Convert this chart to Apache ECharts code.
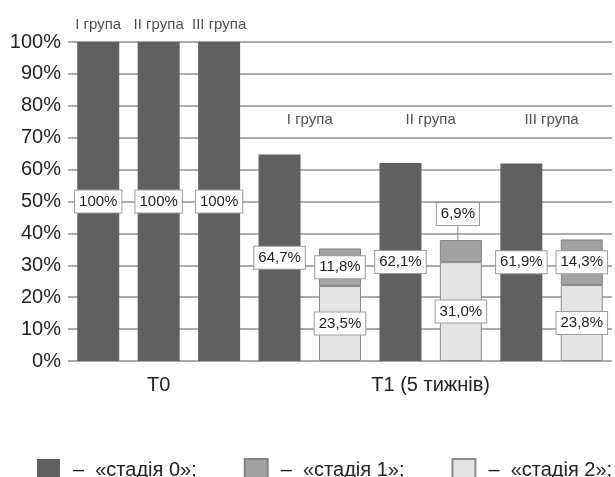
<!DOCTYPE html>
<html>
<head>
<meta charset="utf-8">
<script src="https://cdn.jsdelivr.net/npm/echarts@6/dist/echarts.min.js"></script>
<style>
html,body{margin:0;padding:0;background:#fff;}
#chart{width:615px;height:477px;}
</style>
</head>
<body>
<div id="chart"></div>
<script>
// Nine bar slots: three groups at T0, then a pair of bars per group at T1
const slots = ['T0-I', 'T0-II', 'T0-III', 'T1-I-0', 'T1-I-12', 'T1-II-0', 'T1-II-12', 'T1-III-0', 'T1-III-12'];
const stage0 = [100, 100, 100, 64.7, null, 62.1, null, 61.9, null];
const stage1 = [null, null, null, null, 11.8, null, 6.9, null, 14.3];
const stage2 = [null, null, null, null, 23.5, null, 31.0, null, 23.8];
const seriesNames = ['стадія 0', 'стадія 1', 'стадія 2'];
const periodLabels = ['T0', 'T1 (5 тижнів)'];
const groupNames = ['I група', 'II група', 'III група'];
const yTicks = ['0%', '10%', '20%', '30%', '40%', '50%', '60%', '70%', '80%', '90%', '100%'];

const sans = "'Liberation Sans', Arial, sans-serif";

function fmt(v) {
  return v === 100 ? '100%' : v.toFixed(1).replace('.', ',') + '%';
}

const boxLabel = {
  show: true,
  position: 'inside',
  fontFamily: sans,
  fontSize: 15,
  color: '#222',
  backgroundColor: '#fff',
  borderColor: '#9a9a9a',
  borderWidth: 1,
  padding: [4, 4, 3, 4],
  formatter: p => fmt(p.value)
};

// Group captions: above each T0 bar, and centred over each T1 pair
const groupPoints = [];
groupNames.forEach((g, i) => groupPoints.push({ name: g, value: [i + 0.5, 105.3] }));
groupNames.forEach((g, i) => groupPoints.push({ name: g, value: [4 + 2 * i, 75.5] }));

const chart = echarts.init(document.getElementById('chart'), null, { renderer: 'canvas' });
chart.setOption({
  animation: false,
  backgroundColor: '#fff',
  grid: { left: 68, right: 0, top: 42, bottom: 116 },
  xAxis: [
    {
      type: 'category',
      data: slots,
      axisLine: { show: false },
      axisTick: { show: false },
      axisLabel: { show: false }
    },
    {
      type: 'value',
      min: 0, max: 9, interval: 0.5,
      position: 'bottom',
      axisLine: { show: false },
      axisTick: { show: false },
      splitLine: { show: false },
      axisLabel: {
        margin: 14,
        fontFamily: sans,
        fontSize: 20,
        color: '#222',
        formatter: v => v === 1.5 ? periodLabels[0] : (v === 6 ? periodLabels[1] : '')
      }
    }
  ],
  yAxis: {
    type: 'value',
    min: 0, max: 100, interval: 10,
    axisLine: { show: false },
    axisTick: { show: false },
    axisLabel: {
      margin: 7,
      fontFamily: sans,
      fontSize: 20,
      color: '#222',
      formatter: v => yTicks[Math.round(v / 10)]
    },
    splitLine: { lineStyle: { color: '#8e8e8e', width: 1.5 } }
  },
  legend: {
    top: 458,
    left: 37,
    width: 700,
    padding: 0,
    itemWidth: 23,
    itemHeight: 23,
    itemGap: 47,
    icon: 'rect',
    textStyle: { fontFamily: sans, fontSize: 20, color: '#222', padding: [0, 0, 0, 8] },
    formatter: n => '–  «' + n + '»;',
    data: seriesNames
  },
  series: [
    {
      name: seriesNames[0],
      type: 'bar',
      data: stage0,
      barWidth: 42,
      barGap: '-100%',
      itemStyle: { color: '#606060' },
      label: boxLabel
    },
    {
      name: seriesNames[2],
      type: 'bar',
      stack: 'later',
      data: stage2,
      barWidth: 42,
      barGap: '-100%',
      itemStyle: { color: '#e4e4e4', borderColor: '#8a8a8a', borderWidth: 1 },
      label: boxLabel
    },
    {
      name: seriesNames[1],
      type: 'bar',
      stack: 'later',
      data: stage1,
      barWidth: 42,
      barGap: '-100%',
      itemStyle: { color: '#a2a2a2', borderColor: '#828282', borderWidth: 1 },
      label: boxLabel,
      labelLine: { show: true, lineStyle: { color: '#8a8a8a', width: 1 } },
      labelLayout: p => p.dataIndex === 6 ? { dx: -3, dy: -37 } : {}
    },
    {
      type: 'scatter',
      xAxisIndex: 1,
      data: groupPoints,
      symbolSize: 0,
      clip: false,
      silent: true,
      label: {
        show: true,
        position: 'inside',
        fontFamily: sans,
        fontSize: 15,
        color: '#222',
        formatter: p => p.name
      }
    }
  ]
});
</script>
</body>
</html>
